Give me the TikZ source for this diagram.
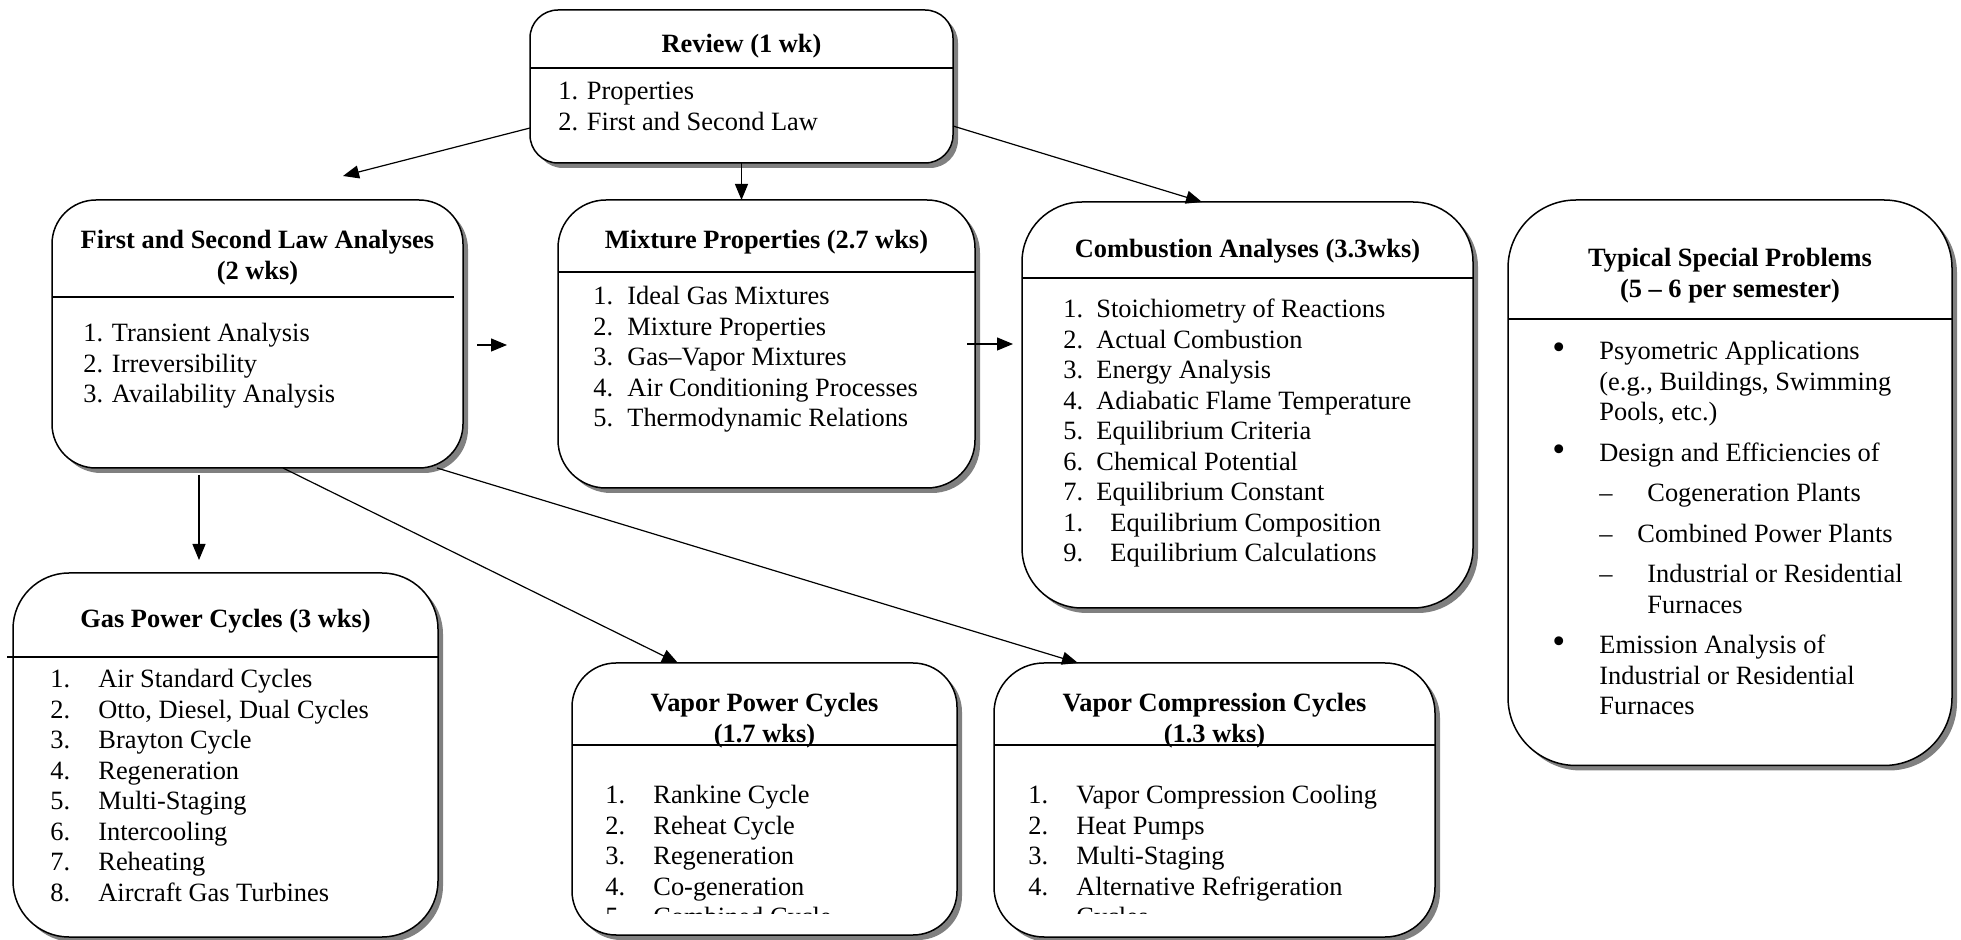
\documentclass[tikz,border=0pt]{standalone}
\usepackage{fontspec}
\setmainfont{Liberation Serif}
\usepackage{graphicx}
\usepackage{tikz}
\usetikzlibrary{arrows.meta, shadows}
\newcommand{\bodysize}{\fontsize{13.2pt}{15.25pt}\selectfont}
\newcommand{\bigdot}{\scalebox{1.4}{\textbullet}}

\begin{document}
\begin{tikzpicture}[x=0.5pt, y=-0.5pt,
    unitbox/.style={rectangle, draw, line width=0.75pt, fill=white, inner sep=0pt, outer sep=0pt,
      drop shadow={shadow xshift=2.5pt, shadow yshift=-2.5pt, fill=black!50, opacity=1}},
    head/.style={font=\bodysize\bfseries, inner sep=0pt, anchor=base},
    list/.style={font=\bodysize, inner sep=0pt, anchor=base west},
    rule/.style={line width=0.6pt},
    link/.style={-{Triangle[length=8pt, width=6.5pt]}, line width=0.6pt}]
    \useasboundingbox (0,0) rectangle (1961,940);

    % review
    \node (review) [unitbox, minimum width=211.5pt, minimum height=76.5pt, rounded corners=14pt] at (741.5,86.5) {};
    \node (reviewhead) [head] at (741.5,53) {Review (1 wk)};
    \draw [rule] (review.west |- 0,68) -- (review.east |- 0,68);
    \node (reviewlist) [list] at (558,100) {\begin{tabular}[t]{@{}l@{}}1. Properties\\2. First and Second Law\end{tabular}};

    % first and second law
    \node (first) [unitbox, minimum width=205.5pt, minimum height=134pt, rounded corners=22pt] at (257.5,334) {};
    \node (firsthead) [head] at (257.5,249) {\begin{tabular}[t]{@{}c@{}}First and Second Law Analyses\\(2 wks)\end{tabular}};
    \draw [rule] (first.west |- 0,297) -- (454,297);
    \node (firstlist) [list] at (83,342) {\begin{tabular}[t]{@{}l@{}}1. Transient Analysis\\2. Irreversibility\\3. Availability Analysis\end{tabular}};

    % mixtures
    \node (mixture) [unitbox, minimum width=208.5pt, minimum height=144pt, rounded corners=24pt] at (766.5,344) {};
    \node (mixturehead) [head] at (766.5,249) {Mixture Properties (2.7 wks)};
    \draw [rule] (mixture.west |- 0,272) -- (mixture.east |- 0,272);
    \node (mixturelist) [list] at (593,305) {\begin{tabular}[t]{@{}p{17pt}@{}l@{}}
        1. & Ideal Gas Mixtures\\
        2. & Mixture Properties\\
        3. & Gas--Vapor Mixtures\\
        4. & Air Conditioning Processes\\
        5. & Thermodynamic Relations\end{tabular}};

    % combustion
    \node (combustion) [unitbox, minimum width=225.5pt, minimum height=203pt, rounded corners=30pt] at (1247.5,405) {};
    \node (combustionhead) [head] at (1247.5,258) {Combustion Analyses (3.3wks)};
    \draw [rule] (combustion.west |- 0,278) -- (combustion.east |- 0,278);
    \node (combustionlist) [list] at (1063,318) {\begin{tabular}[t]{@{}p{16.5pt}@{}l@{}}
        1. & Stoichiometry of Reactions\\
        2. & Actual Combustion\\
        3. & Energy Analysis\\
        4. & Adiabatic Flame Temperature\\
        5. & Equilibrium Criteria\\
        6. & Chemical Potential\\
        7. & Equilibrium Constant\\
        1. & \hspace{7pt}Equilibrium Composition\\
        9. & \hspace{7pt}Equilibrium Calculations\end{tabular}};

    % special problems
    \node (special) [unitbox, minimum width=222pt, minimum height=282.75pt, rounded corners=34pt] at (1730,482.75) {};
    \node (specialhead) [head] at (1730,267) {\begin{tabular}[t]{@{}c@{}}Typical Special Problems\\(5 -- 6 per semester)\end{tabular}};
    \draw [rule] (special.west |- 0,319) -- (special.east |- 0,319);
    \node (speciallist) [list] at (1552,360) {\begin{tabular}[t]{@{}p{23.5pt}@{}l@{}}
        \bigdot & Psyometric Applications\\
        & (e.g., Buildings, Swimming\\
        & Pools, etc.)\\[5pt]
        \bigdot & Design and Efficiencies of\\[5pt]
        & \makebox[24pt][l]{--}Cogeneration Plants\\[5pt]
        & \makebox[19pt][l]{--}Combined Power Plants\\[5pt]
        & \makebox[24pt][l]{--}Industrial or Residential\\
        & \hspace{24pt}Furnaces\\[5pt]
        \bigdot & Emission Analysis of\\
        & Industrial or Residential\\
        & Furnaces\end{tabular}};

    % gas power cycles
    \node (gas) [unitbox, minimum width=212.5pt, minimum height=182pt, rounded corners=28pt] at (225.5,755) {};
    \node (gashead) [head] at (225.5,628) {Gas Power Cycles (3 wks)};
    \draw [rule] (7,657) -- (gas.east |- 0,657);
    \node (gaslist) [list] at (50,688) {\begin{tabular}[t]{@{}p{24pt}@{}l@{}}
        1. & Air Standard Cycles\\
        2. & Otto, Diesel, Dual Cycles\\
        3. & Brayton Cycle\\
        4. & Regeneration\\
        5. & Multi-Staging\\
        6. & Intercooling\\
        7. & Reheating\\
        8. & Aircraft Gas Turbines\end{tabular}};

    % vapor power cycles
    \node (vapor) [unitbox, minimum width=192.5pt, minimum height=136pt, rounded corners=22pt] at (764.5,799) {};
    \node (vaporhead) [head] at (764.5,712) {\begin{tabular}[t]{@{}c@{}}Vapor Power Cycles\\(1.7 wks)\end{tabular}};
    \draw [rule] (vapor.west |- 0,745) -- (vapor.east |- 0,745);
    \begin{scope}
      \clip (572,663) rectangle (957,913);
      \node (vaporlist) [list] at (605,804) {\begin{tabular}[t]{@{}p{24pt}@{}l@{}}
          1. & Rankine Cycle\\
          2. & Reheat Cycle\\
          3. & Regeneration\\
          4. & Co-generation\\
          5. & Combined Cycle\end{tabular}};
    \end{scope}

    % vapor compression cycles
    \node (vcomp) [unitbox, minimum width=220.5pt, minimum height=137pt, rounded corners=25pt] at (1214.5,800) {};
    \node (vcomphead) [head] at (1214.5,712) {\begin{tabular}[t]{@{}c@{}}Vapor Compression Cycles\\(1.3 wks)\end{tabular}};
    \draw [rule] (vcomp.west |- 0,745) -- (vcomp.east |- 0,745);
    \begin{scope}
      \clip (994,663) rectangle (1435,913);
      \node (vcomplist) [list] at (1028,804) {\begin{tabular}[t]{@{}p{24pt}@{}l@{}}
          1. & Vapor Compression Cooling\\
          2. & Heat Pumps\\
          3. & Multi-Staging\\
          4. & Alternative Refrigeration\\
          & Cycles\end{tabular}};
    \end{scope}

    % connectors
    \coordinate (firstin) at (343,176);
    \coordinate (combin) at (1013,344);
    \coordinate (gasin) at (199,560);
    \draw [link] ([yshift=-20.75pt]review.west) -- (firstin);
    \draw [link] (review.south) -- (review.south |- mixture.north);
    \draw [link] ([yshift=-19.75pt]review.east) -- ([xshift=-22.75pt]combustion.north);
    \draw [link] ([xshift=7pt, yshift=-5.5pt]first.east) -- ([xshift=-25.5pt, yshift=-0.5pt]mixture.west);
    \draw [link] ([xshift=-4pt]mixture.east) -- (combin);
    \draw [link] ([xshift=-29.25pt, yshift=-3.5pt]first.south) -- (gasin);
    \draw [link] ([xshift=12.75pt]first.south) -- ([xshift=-43.25pt]vapor.north);
    \draw [link] ([xshift=89.75pt]first.south) -- ([xshift=-68.25pt]vcomp.north);
\end{tikzpicture}
\end{document}
